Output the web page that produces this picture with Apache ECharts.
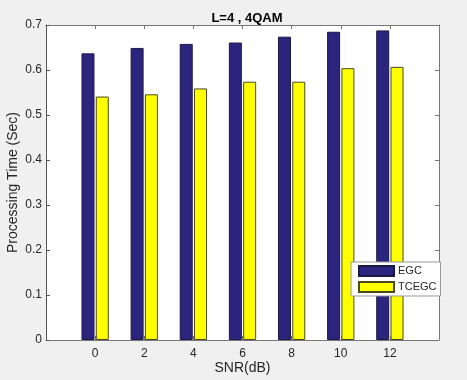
<!DOCTYPE html>
<html>
<head>
<meta charset="utf-8">
<script src="https://cdn.jsdelivr.net/npm/echarts@6/dist/echarts.min.js"></script>
<style>
  html, body { margin: 0; padding: 0; background: #f0f0f0; }
  #chart { width: 467px; height: 380px; }
</style>
</head>
<body>
<div id="chart"></div>
<script>
  const snr = [0, 2, 4, 6, 8, 10, 12];
  const egc = [0.637, 0.649, 0.658, 0.661, 0.674, 0.685, 0.688];
  const tcegc = [0.541, 0.546, 0.559, 0.574, 0.574, 0.604, 0.607];
  const yTicks = [0, 0.1, 0.2, 0.3, 0.4, 0.5, 0.6, 0.7];

  const font = 'Liberation Sans, Arial, sans-serif';
  const textColor = '#262626';
  const frameColor = '#777777';

  const chart = echarts.init(document.getElementById('chart'));

  function pairs(values) {
    return snr.map(function (x, i) { return [x, values[i]]; });
  }

  function boxAxis(pos, isX) {
    return {
      type: 'value',
      position: pos,
      min: isX ? -2 : 0,
      max: isX ? 14 : 0.7,
      interval: isX ? 2 : 0.1,
      axisLine: { show: true, onZero: false, lineStyle: { color: frameColor, width: 1 } },
      axisTick: { show: true, inside: true, length: 4, lineStyle: { color: frameColor },
                  customValues: isX ? snr : yTicks },
      axisLabel: { show: false },
      splitLine: { show: false }
    };
  }

  const option = {
    backgroundColor: '#f0f0f0',
    animation: false,
    title: {
      text: 'L=4 , 4QAM',
      left: 242,
      top: 7,
      textAlign: 'center',
      textStyle: { fontFamily: font, fontSize: 13, fontWeight: 'bold', color: '#000' }
    },
    grid: {
      left: 46,
      right: 28,
      top: 25,
      bottom: 40,
      outerBoundsMode: 'none',
      containLabel: false,
      show: true,
      backgroundColor: '#ffffff',
      borderWidth: 0
    },
    legend: {
      orient: 'vertical',
      left: 351,
      top: 262,
      padding: [3, 4, 3, 7],
      itemWidth: 35,
      itemHeight: 10,
      itemGap: 4,
      backgroundColor: '#ffffff',
      borderColor: '#999999',
      borderWidth: 1,
      borderRadius: 0,
      icon: 'rect',
      textStyle: { fontFamily: font, fontSize: 11, color: textColor, padding: [0, 0, 0, -1] },
      data: ['EGC', 'TCEGC']
    },
    xAxis: [{
      type: 'value',
      position: 'bottom',
      min: -2,
      max: 14,
      interval: 2,
      name: 'SNR(dB)',
      nameLocation: 'middle',
      nameGap: 21,
      nameMoveOverlap: false,
      nameTextStyle: { fontFamily: font, fontSize: 14, color: textColor },
      axisLine: { show: true, onZero: false, lineStyle: { color: frameColor, width: 1 } },
      axisTick: { show: true, inside: true, length: 4, lineStyle: { color: frameColor }, customValues: snr },
      axisLabel: { fontFamily: font, fontSize: 12, color: textColor, margin: 8, customValues: snr },
      splitLine: { show: false }
    }, boxAxis('top', true)],
    yAxis: [{
      type: 'value',
      position: 'left',
      min: 0,
      max: 0.7,
      interval: 0.1,
      name: 'Processing Time (Sec)',
      nameLocation: 'middle',
      nameGap: 26,
      nameMoveOverlap: false,
      nameTextStyle: { fontFamily: font, fontSize: 14, color: textColor },
      axisLine: { show: true, onZero: false, lineStyle: { color: '#555555', width: 1 } },
      axisTick: { show: true, inside: true, length: 4, lineStyle: { color: '#555555' } },
      axisLabel: {
        fontFamily: font, fontSize: 12, color: textColor, margin: 4,
        formatter: function (v) { return v === 0 ? '0' : v.toFixed(1); }
      },
      splitLine: { show: false }
    }, boxAxis('right', false)],
    series: [{
      name: 'EGC',
      type: 'bar',
      data: pairs(egc),
      barWidth: 13,
      barGap: '10%',
      itemStyle: { color: '#2c2580', borderColor: '#1a1a40', borderWidth: 1 }
    }, {
      name: 'TCEGC',
      type: 'bar',
      data: pairs(tcegc),
      barWidth: 13,
      barGap: '10%',
      itemStyle: { color: '#ffff00', borderColor: '#4a4a20', borderWidth: 1 }
    }]
  };

  chart.setOption(option);
</script>
</body>
</html>
